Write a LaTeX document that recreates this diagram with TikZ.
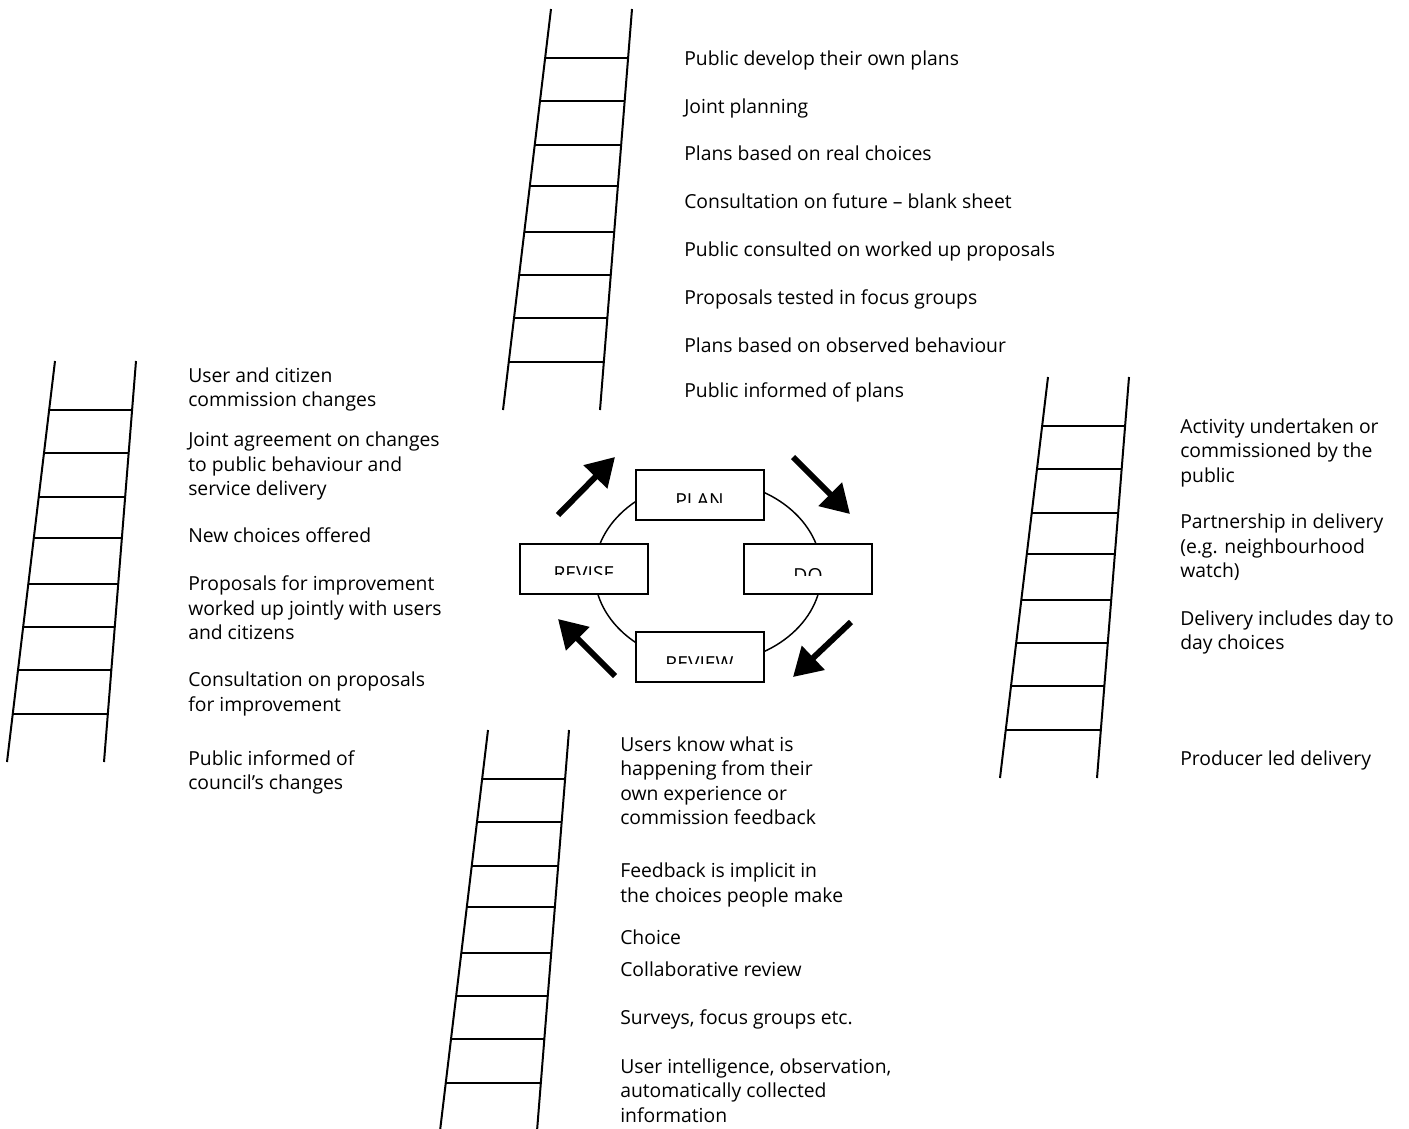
\documentclass[tikz,border=0pt]{standalone}
\usepackage{fontspec}
\setmainfont{Open Sans}
\usetikzlibrary{arrows.meta}
% stacked lines of a label, baseline on the first line
\newcommand\stack[1]{\begin{tabular}[t]{@{}l@{}}#1\end{tabular}}
% a ladder whose upper left rail end is at (#1,#2)
\newcommand\ladderat[2]{%
  \begin{scope}[shift={(#1,#2)}]
    \draw[rail] (0,0) -- (-48,401);
    \draw[rail] (81,0) -- (49,401);
    \foreach \rg in {48.5,92,135.5,177,222.5,266,309,353}{
      \pgfmathsetmacro\lx{-(\rg/401)*48}
      \pgfmathsetmacro\rx{81-(\rg/401)*32}
      \draw[rail] (\lx,\rg) -- (\rx,\rg);
    }
  \end{scope}}
\begin{document}
\begin{tikzpicture}[x=0.75pt,y=-0.75pt,
  rail/.style={line width=1.5pt},
  txt/.style={anchor=base west,inner sep=0pt,font=\fontsize{14.5}{18.45}\selectfont},
  stage/.style={draw,line width=1.5pt,fill=white,minimum width=96pt,minimum height=37.5pt,inner sep=0pt},
  stagelabel/.style={anchor=base,inner sep=0pt,font=\fontsize{14.5}{18.45}\selectfont},
  loopline/.style={line width=1.1pt},
  bigarrow/.style={line width=4.5pt,-{Triangle[length=21pt,width=24pt]}}]

\useasboundingbox[fill=white] (0,0) rectangle (1409,1128);

% the four ladders
\ladderat{551}{9}
\ladderat{55}{361}
\ladderat{1048}{377}
\ladderat{488}{730}

% plan ladder
\node[txt] (p1) at (684,65) {Public develop their own plans};
\node[txt] (p2) at (684,113) {Joint planning};
\node[txt] (p3) at (684,160) {Plans based on real choices};
\node[txt] (p4) at (684,208) {Consultation on future – blank sheet};
\node[txt] (p5) at (684,256.5) {Public consulted on worked up proposals};
\node[txt] (p6) at (684,304) {Proposals tested in focus groups};
\node[txt] (p7) at (684,352) {Plans based on observed behaviour};
\node[txt] (p8) at (684,397) {Public informed of plans};

% revise ladder
\node[txt] (r1) at (188,382) {\stack{User and citizen\\commission changes}};
\node[txt] (r2) at (188,446.5) {\stack{Joint agreement on changes\\to public behaviour and\\service delivery}};
\node[txt] (r3) at (188,542) {New choices offered};
\node[txt] (r4) at (188,590.5) {\stack{Proposals for improvement\\worked up jointly with users\\and citizens}};
\node[txt] (r5) at (188,686.5) {\stack{Consultation on proposals\\for improvement}};
\node[txt] (r6) at (188,765) {\stack{Public informed of\\council’s changes}};

% do ladder
\node[txt] (d1) at (1180,433) {\stack{Activity undertaken or\\commissioned by the\\public}};
\node[txt] (d2) at (1180,528.5) {\stack{Partnership in delivery\\(e.g. neighbourhood\\watch)}};
\node[txt] (d3) at (1180,625) {\stack{Delivery includes day to\\day choices}};
\node[txt] (d4) at (1180,765) {Producer led delivery};

% review ladder
\node[txt] (v1) at (620,751) {\stack{Users know what is\\happening from their\\own experience or\\commission feedback}};
\node[txt] (v2) at (620,877.5) {\stack{Feedback is implicit in\\the choices people make}};
\node[txt] (v3) at (620,944) {Choice};
\node[txt] (v4) at (620,976.5) {Collaborative review};
\node[txt] (v5) at (620,1024) {Surveys, focus groups etc.};
\node[txt] (v6) at (620,1073) {\stack{User intelligence, observation,\\automatically collected\\information}};

% the cycle
\draw[loopline] (708,572) ellipse [x radius=113.5, y radius=91.5];
\node[stage] (plan) at (699.5,494.5) {};
\node[stage] (revise) at (584,568.5) {};
\node[stage] (do) at (808,568.5) {};
\node[stage] (review) at (699.5,657) {};

% stage names, only their upper part shows
\begin{scope}
  \clip (637,471) rectangle (762,502);
  \node[stagelabel] (planlbl) at (699.5,507) {PLAN};
\end{scope}
\begin{scope}
  \clip (522,545) rectangle (646,574);
  \node[stagelabel] (reviselbl) at (584,580.5) {REVISE};
\end{scope}
\begin{scope}
  \clip (746,545) rectangle (870,575);
  \node[stagelabel] (dolbl) at (808,582) {DO};
\end{scope}
\begin{scope}
  \clip (637,634) rectangle (762,663.5);
  \node[stagelabel] (reviewlbl) at (699.5,670) {REVIEW};
\end{scope}

% arrows round the cycle
\coordinate (a1s) at (558,515); \coordinate (a1e) at (615,457);
\coordinate (a2s) at (793,457); \coordinate (a2e) at (850,514);
\coordinate (a3s) at (851,622); \coordinate (a3e) at (793,677);
\coordinate (a4s) at (615,676); \coordinate (a4e) at (558,619);
\draw[bigarrow] (a1s) -- (a1e);
\draw[bigarrow] (a2s) -- (a2e);
\draw[bigarrow] (a3s) -- (a3e);
\draw[bigarrow] (a4s) -- (a4e);
\end{tikzpicture}
\end{document}
